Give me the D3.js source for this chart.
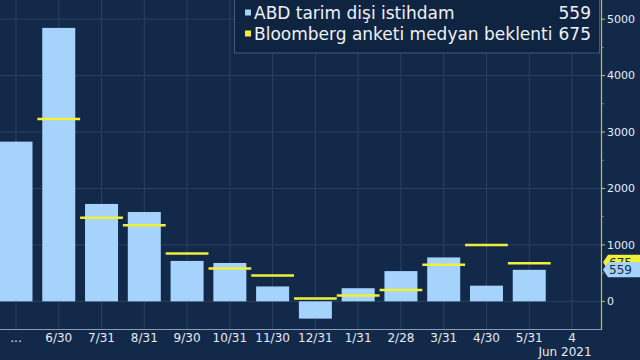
<!DOCTYPE html>
<html>
<head>
<meta charset="utf-8">
<script src="https://cdn.jsdelivr.net/npm/d3@7"></script>
<style>
  html, body { margin: 0; padding: 0; background: #13294a; }
  svg { display: block; font-family: "DejaVu Sans", sans-serif; }
</style>
</head>
<body>
<svg id="chart" width="640" height="360"></svg>
<script>
// tick labels along the bottom (month ends, last one is the release day)
const categories = ["...", "6/30", "7/31", "8/31", "9/30", "10/31", "11/30", "12/31", "1/31", "2/28", "3/31", "4/30", "5/31", "4"];
// nonfarm payrolls change, thousands
const payrolls = [2830, 4846, 1726, 1583, 716, 680, 264, -306, 233, 536, 778, 278, 559];
// Bloomberg survey median, thousands (first one is off the chart)
const survey = [null, 3230, 1480, 1350, 850, 580, 460, 50, 105, 200, 650, 1000, 675];
const yTicks = [0, 1000, 2000, 3000, 4000, 5000];
const yMinor = [500, 1500, 2500, 3500, 4500];

const bg = "#13294a",
      barColor = "#a5d3fb",
      yellow = "#f0f03a",
      gridColor = "#2a4361",
      axisX = 601,
      plotBottom = 329;

const svg = d3.select("#chart");
svg.append("rect").attr("width", 640).attr("height", 360).attr("fill", bg);

const x = d3.scaleBand()
  .domain(categories)
  .range([16 - 21.4, 16 + 21.4 + 13 * 42.77])
  .paddingInner(0).paddingOuter(0);
const y = d3.scaleLinear().domain([-490, 5340]).range([plotBottom, 0]);
const cx = c => x(c) + x.bandwidth() / 2;
const barW = 33;

svg.append("clipPath").attr("id", "plot")
  .append("rect").attr("x", 0).attr("y", 0).attr("width", axisX).attr("height", plotBottom);

const plot = svg.append("g").attr("clip-path", "url(#plot)");

// grid
plot.selectAll(".hgrid")
  .data(yTicks)
  .join("line")
  .attr("x1", 0).attr("x2", axisX)
  .attr("y1", d => y(d)).attr("y2", d => y(d))
  .attr("stroke", gridColor).attr("stroke-width", 1);

plot.selectAll(".vgrid")
  .data(categories)
  .join("line")
  .attr("x1", d => cx(d)).attr("x2", d => cx(d))
  .attr("y1", 0).attr("y2", plotBottom)
  .attr("stroke", gridColor).attr("stroke-width", 1);

// bars
plot.selectAll(".bar")
  .data(payrolls)
  .join("rect")
  .attr("x", (d, i) => cx(categories[i]) - barW / 2)
  .attr("width", barW)
  .attr("y", d => y(Math.max(0, d)))
  .attr("height", d => Math.abs(y(d) - y(0)))
  .attr("fill", barColor);

// survey medians
plot.selectAll(".survey")
  .data(survey.map((v, i) => ({ v, c: categories[i] })).filter(d => d.v !== null))
  .join("line")
  .attr("x1", d => x(d.c)).attr("x2", d => x(d.c) + x.bandwidth())
  .attr("y1", d => y(d.v)).attr("y2", d => y(d.v))
  .attr("stroke", yellow).attr("stroke-width", 2.5);

// bottom axis line
svg.append("line")
  .attr("x1", 0).attr("x2", axisX)
  .attr("y1", plotBottom + 0.5).attr("y2", plotBottom + 0.5)
  .attr("stroke", "#8a9bb2").attr("stroke-width", 1);

svg.selectAll(".xlab")
  .data(categories)
  .join("text")
  .attr("x", d => cx(d))
  .attr("y", 342)
  .attr("text-anchor", "middle")
  .attr("font-size", "12px")
  .attr("fill", "#e6ecf3")
  .text(d => d);

svg.append("text")
  .attr("x", cx("4") - 7).attr("y", 356)
  .attr("text-anchor", "middle")
  .attr("font-size", "12px")
  .attr("fill", "#e6ecf3")
  .text("Jun 2021");

// right axis
svg.append("line")
  .attr("x1", axisX + 0.5).attr("x2", axisX + 0.5)
  .attr("y1", 0).attr("y2", plotBottom + 1)
  .attr("stroke", "#b9c94c").attr("stroke-width", 1.2);

svg.selectAll(".ytick")
  .data(yTicks)
  .join("line")
  .attr("x1", axisX).attr("x2", axisX + 4)
  .attr("y1", d => y(d)).attr("y2", d => y(d))
  .attr("stroke", "#b9c94c");

svg.selectAll(".yminor")
  .data(yMinor)
  .join("line")
  .attr("x1", axisX).attr("x2", axisX + 2.5)
  .attr("y1", d => y(d)).attr("y2", d => y(d))
  .attr("stroke", "#8a9bb2");

svg.selectAll(".ylab")
  .data(yTicks)
  .join("text")
  .attr("x", axisX + 6)
  .attr("y", d => y(d))
  .attr("dy", "0.35em")
  .attr("font-size", "11px")
  .attr("fill", "#e6ecf3")
  .text(d => d);

// last value tags; the survey tag sits mostly behind the payrolls tag
const tagH = 15;
function tagPath(ty) {
  return `M${axisX + 2},${ty} L${axisX + 7},${ty - tagH / 2} L640,${ty - tagH / 2} L640,${ty + tagH / 2} L${axisX + 7},${ty + tagH / 2} Z`;
}
const surveyY = y(survey[survey.length - 1]) - 1;
const payY = y(payrolls[payrolls.length - 1]);

svg.append("path").attr("d", tagPath(surveyY)).attr("fill", yellow);
svg.append("clipPath").attr("id", "tagclip")
  .append("rect").attr("x", axisX).attr("y", surveyY - tagH / 2)
  .attr("width", 40).attr("height", payY - tagH / 2 - (surveyY - tagH / 2));
svg.append("text")
  .attr("clip-path", "url(#tagclip)")
  .attr("x", axisX + 8).attr("y", surveyY)
  .attr("dy", "0.36em")
  .attr("font-size", "12px")
  .attr("fill", bg)
  .text(survey[survey.length - 1]);

svg.append("path").attr("d", tagPath(payY)).attr("fill", barColor);
svg.append("text")
  .attr("x", axisX + 8).attr("y", payY)
  .attr("dy", "0.36em")
  .attr("font-size", "12px")
  .attr("fill", bg)
  .text(payrolls[payrolls.length - 1]);

// legend
const legend = svg.append("g");
legend.append("rect")
  .attr("x", 234.5).attr("y", -2).attr("width", 365).attr("height", 55)
  .attr("fill", "#0f2441").attr("stroke", "#465a75").attr("stroke-width", 1);

const legendRows = [
  { name: "ABD tarim dişi istihdam", color: barColor, val: payrolls[payrolls.length - 1] },
  { name: "Bloomberg anketi medyan beklenti", color: yellow, val: survey[survey.length - 1] }
];
legendRows.forEach((r, i) => {
  const ly = 13 + i * 21;
  legend.append("rect")
    .attr("x", 245).attr("y", ly - 3.5).attr("width", 6).attr("height", 6)
    .attr("fill", r.color);
  legend.append("text")
    .attr("x", 254).attr("y", ly).attr("dy", "0.36em")
    .attr("font-size", "17px").attr("fill", "#eef2f7")
    .text(r.name);
  legend.append("text")
    .attr("x", 591).attr("y", ly).attr("dy", "0.36em")
    .attr("text-anchor", "end")
    .attr("font-size", "17px").attr("fill", "#eef2f7")
    .text(r.val);
});
</script>
</body>
</html>
